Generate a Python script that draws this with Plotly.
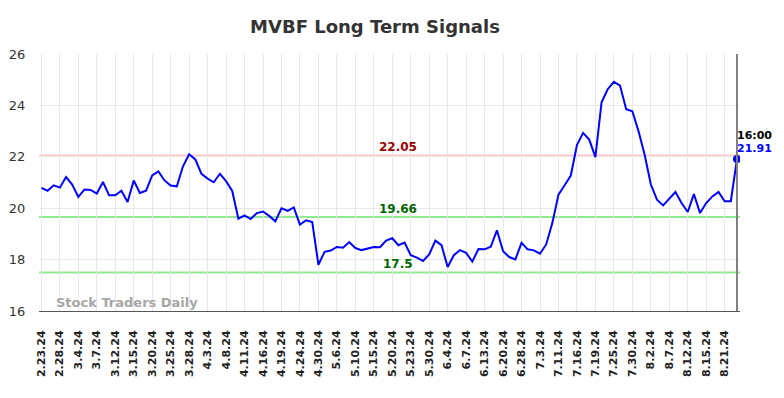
import plotly.graph_objects as go

# ---- data ----
tick_labels = ["2.23.24", "2.28.24", "3.4.24", "3.7.24", "3.12.24", "3.15.24", "3.20.24",
               "3.25.24", "3.28.24", "4.3.24", "4.8.24", "4.11.24", "4.16.24", "4.19.24",
               "4.24.24", "4.30.24", "5.6.24", "5.10.24", "5.15.24", "5.20.24", "5.23.24",
               "5.30.24", "6.4.24", "6.7.24", "6.13.24", "6.20.24", "6.28.24", "7.3.24",
               "7.11.24", "7.16.24", "7.19.24", "7.25.24", "7.30.24", "8.2.24", "8.7.24",
               "8.12.24", "8.15.24", "8.21.24"]
tick_step = 3

prices = [
    20.79, 20.68, 20.89, 20.80, 21.21, 20.92, 20.44, 20.73, 20.71, 20.57,
    21.02, 20.50, 20.50, 20.68, 20.24, 21.08, 20.59, 20.68, 21.28, 21.43,
    21.08, 20.88, 20.85, 21.63, 22.10, 21.90, 21.34, 21.15, 21.01, 21.34,
    21.05, 20.67, 19.59, 19.72, 19.58, 19.81, 19.87, 19.70, 19.49, 20.00,
    19.90, 20.03, 19.36, 19.53, 19.46, 17.80, 18.30, 18.35, 18.49, 18.46,
    18.68, 18.45, 18.37, 18.43, 18.49, 18.48, 18.74, 18.83, 18.56, 18.66,
    18.17, 18.08, 17.95, 18.20, 18.74, 18.56, 17.71, 18.17, 18.37, 18.26,
    17.92, 18.41, 18.40, 18.50, 19.14, 18.33, 18.10, 18.01, 18.65, 18.40,
    18.36, 18.23, 18.59, 19.42, 20.53, 20.89, 21.27, 22.46, 22.93, 22.67,
    21.99, 24.12, 24.63, 24.92, 24.77, 23.85, 23.77, 23.00, 22.08, 20.93,
    20.33, 20.11, 20.36, 20.63, 20.20, 19.85, 20.55, 19.81, 20.20, 20.46,
    20.63, 20.27, 20.27, 21.91,
]

resistance = 22.05
support_levels = [19.66, 17.5]
last_time = "16:00"
y_ticks = [16, 18, 20, 22, 24, 26]

x = list(range(len(prices)))
tickvals = [i * tick_step for i in range(len(tick_labels))]
last_i = x[-1]
last_v = prices[-1]

font_family = "DejaVu Sans"
fig = go.Figure()

fig.add_trace(go.Scatter(x=x, y=prices, mode="lines",
                         line=dict(color="#0000ff", width=2), hoverinfo="skip"))
fig.add_trace(go.Scatter(x=[last_i], y=[last_v], mode="markers",
                         marker=dict(color="#0000ff", size=8), hoverinfo="skip"))

x_lo, x_hi = -0.39, last_i + 0.49

# level lines
fig.add_shape(type="line", xref="x", yref="y", x0=x_lo, x1=x_hi, y0=resistance, y1=resistance,
              line=dict(color="#ffc8c8", width=2), layer="below")
for s in support_levels:
    fig.add_shape(type="line", xref="x", yref="y", x0=x_lo, x1=x_hi, y0=s, y1=s,
                  line=dict(color="#90e890", width=2), layer="below")

# right vertical marker line
fig.add_shape(type="line", xref="x", yref="y", x0=last_i, x1=last_i, y0=16, y1=26,
              line=dict(color="#808080", width=2))

ann_x = 58
fig.add_annotation(x=ann_x, y=resistance, text=f"<b>{resistance:.2f}</b>", showarrow=False,
                   yanchor="bottom", yshift=0, font=dict(family=font_family, size=12, color="#990000"))
for s in support_levels:
    fig.add_annotation(x=ann_x, y=s, text=f"<b>{s:g}</b>", showarrow=False,
                       yanchor="bottom", yshift=-1, font=dict(family=font_family, size=12, color="#006600"))

fig.add_annotation(x=last_i, y=last_v, text=f"<b>{last_time}</b>", showarrow=False,
                   xanchor="left", yanchor="middle", xshift=-2, yshift=24,
                   font=dict(family=font_family, size=11, color="#000000"))
fig.add_annotation(x=last_i, y=last_v, text=f"<b>{last_v:.2f}</b>", showarrow=False,
                   xanchor="left", yanchor="middle", xshift=-2, yshift=11,
                   font=dict(family=font_family, size=11, color="#0000ff"))

fig.add_annotation(xref="paper", yref="paper", x=0.021, y=0.035, text="<b>Stock Traders Daily</b>",
                   showarrow=False, xanchor="left", yanchor="middle",
                   font=dict(family=font_family, size=13, color="#a6a6a6"))

fig.update_layout(
    width=784, height=398,
    margin=dict(l=39, r=44, t=54, b=87),
    paper_bgcolor="white", plot_bgcolor="white",
    showlegend=False,
    title=dict(text="<b>MVBF Long Term Signals</b>", x=375 / 784, xanchor="center",
               y=1 - 27 / 398, yanchor="middle",
               font=dict(family=font_family, size=18, color="#333333")),
    xaxis=dict(range=[x_lo, x_hi], tickvals=tickvals, ticktext=tick_labels, tickangle=-90,
               showgrid=True, gridcolor="#e8e8e8", gridwidth=1, zeroline=False,
               showline=True, linecolor="#555555", linewidth=1, automargin=False,
               ticks="outside", ticklen=14, tickcolor="rgba(0,0,0,0)",
               tickfont=dict(family=font_family, size=11, color="#222222", weight="bold")),
    yaxis=dict(range=[16, 26], tickvals=y_ticks, showgrid=True, gridcolor="#e8e8e8",
               gridwidth=1, zeroline=False, ticks="outside", ticklen=10, automargin=False,
               tickcolor="rgba(0,0,0,0)",
               tickfont=dict(family=font_family, size=13, color="#333333")),
)

fig.write_html("out.html", config={"displayModeBar": False},
               post_script="document.body.style.margin='0';document.body.style.overflow='hidden';")
